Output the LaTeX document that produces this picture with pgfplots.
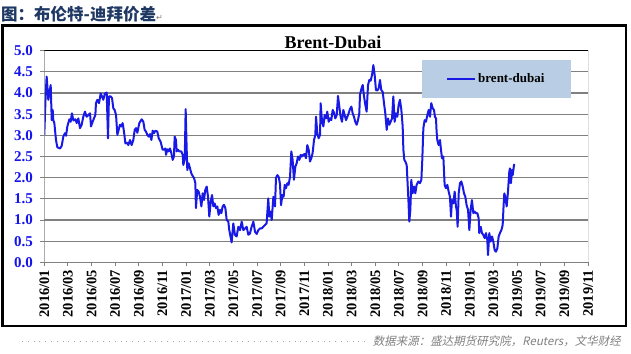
\documentclass[border=0pt]{standalone}
\usepackage{pgfplots}
\pgfplotsset{compat=1.18}
\usepackage{fontspec}
\setmainfont{Liberation Serif}
\newfontfamily\cjk{Noto Sans CJK SC}
\newfontfamily\cjkit{Noto Sans CJK SC}[FakeSlant=0.2]
\newfontfamily\sym{DejaVu Sans}
\definecolor{lineblue}{RGB}{25,25,230}
\definecolor{legfill}{RGB}{185,205,229}
\definecolor{titlenavy}{RGB}{31,56,100}
\definecolor{ylab}{RGB}{20,20,235}
\definecolor{gridgray}{RGB}{128,128,128}
\begin{document}
\begin{tikzpicture}[x=1pt,y=1pt]
\useasboundingbox (0,0) rectangle (631,353);
\draw[line width=2.5pt] (2.5,27) rectangle (626,327.5);
\node[anchor=west, inner sep=0pt, font=\cjk\bfseries\fontsize{16.5}{16.5}\selectfont, text=titlenavy] at (1,339) {图：布伦特-迪拜价差{\sym\mdseries\fontsize{8}{8}\selectfont\color{gray}↵}};
\node[font=\bfseries\fontsize{18}{18}\selectfont] at (333,311) {Brent-Dubai};
\draw[gray!70, line width=0.8pt, dash pattern=on 0.8pt off 5pt] (22,12) -- (366,12);
\node[anchor=east, inner sep=0pt, font=\cjkit\fontsize{11.5}{12}\selectfont, text=gray] at (621,12) {数据来源：盛达期货研究院，Reuters，文华财经};
\begin{axis}[
  at={(44.3pt,90.7pt)}, anchor=south west,
  width=543.7pt, height=211.6pt, scale only axis,
  xmin=0, xmax=46, ymin=0, ymax=5,
  xtick={0,2,...,46},
  xticklabels={2016/01,2016/03,2016/05,2016/07,2016/09,2016/11,2017/01,2017/03,2017/05,2017/07,2017/09,2017/11,2018/01,2018/03,2018/05,2018/07,2018/09,2018/11,2019/01,2019/03,2019/05,2019/07,2019/09,2019/11},
  ytick={0,0.5,1,1.5,2,2.5,3,3.5,4,4.5,5},
  yticklabel={\pgfmathprintnumber[fixed,fixed zerofill,precision=1]{\tick}},
  /pgf/number format/assume math mode=true,
  ymajorgrids, grid style={color=gridgray, line width=1.1pt},
  axis line style={draw=none},
  tick style={color=gridgray, line width=0.9pt}, major tick length=4pt, tick align=outside,
  xtick pos=bottom, ytick pos=left,
  x tick label style={rotate=90, anchor=east, font=\bfseries\fontsize{14.5}{14.5}\selectfont, xshift=0pt},
  y tick label style={font=\bfseries\fontsize{15}{15}\selectfont, text=ylab, xshift=-4pt},
  legend style={at={(0.8314,0.866)}, anchor=center, draw=none, fill=none, font=\bfseries\fontsize{13}{13}\selectfont},
  legend image code/.code={\draw[#1] (0pt,0pt) -- (28pt,0pt);},
]
\addplot[color=lineblue, line width=2pt, line join=round] coordinates {
(0.00,3.01)(0.12,3.99)(0.20,4.39)(0.34,3.84)(0.43,3.99)(0.54,4.19)(0.63,3.36)(0.71,3.60)(0.76,3.36)(0.85,3.29)(0.99,2.89)(1.10,2.72)(1.33,2.69)(1.47,2.75)(1.61,2.97)(1.75,3.05)(1.84,2.99)(1.95,3.21)(2.12,3.38)(2.23,3.32)(2.34,3.52)(2.46,3.35)(2.63,3.38)(2.74,3.29)(2.88,3.40)(3.02,3.17)(3.16,3.25)(3.30,3.44)(3.44,3.56)(3.58,3.44)(3.73,3.48)(3.87,3.52)(3.95,3.21)(4.09,3.32)(4.20,3.40)(4.32,3.48)(4.37,3.76)(4.49,3.84)(4.63,3.76)(4.77,3.99)(4.88,3.92)(4.99,3.84)(5.13,3.99)(5.28,4.01)(5.39,2.93)(5.47,3.92)(5.61,3.92)(5.73,3.88)(5.84,3.64)(5.95,3.60)(6.07,3.48)(6.18,3.01)(6.29,3.13)(6.40,3.25)(6.52,3.21)(6.63,3.29)(6.74,3.09)(6.86,2.81)(6.97,2.83)(7.11,2.77)(7.25,2.89)(7.39,2.77)(7.53,2.89)(7.65,3.13)(7.76,3.17)(7.87,3.06)(8.04,3.29)(8.24,3.38)(8.38,3.32)(8.49,3.13)(8.60,3.09)(8.72,3.01)(8.83,2.97)(8.94,3.03)(9.06,2.89)(9.17,3.11)(9.28,3.05)(9.39,3.11)(9.56,3.09)(9.68,2.93)(9.84,2.85)(10.01,2.66)(10.13,2.66)(10.24,2.69)(10.30,2.54)(10.41,2.67)(10.52,2.62)(10.63,2.69)(10.75,2.58)(10.86,2.42)(10.97,2.50)(11.03,2.97)(11.14,2.89)(11.20,2.62)(11.31,2.66)(11.42,2.62)(11.59,2.62)(11.71,2.54)(11.76,2.30)(11.88,2.42)(11.96,3.62)(12.04,2.73)(12.10,2.18)(12.21,2.34)(12.33,2.22)(12.44,2.10)(12.55,2.04)(12.67,1.99)(12.78,1.87)(12.83,1.28)(12.94,1.71)(13.06,1.67)(13.17,1.55)(13.29,1.32)(13.40,1.63)(13.51,1.47)(13.62,1.71)(13.74,1.79)(13.85,1.55)(13.96,1.08)(14.08,1.43)(14.19,1.59)(14.30,1.32)(14.41,1.39)(14.53,1.28)(14.64,1.32)(14.75,1.12)(14.86,1.24)(14.98,1.16)(15.09,1.32)(15.20,1.36)(15.32,1.28)(15.43,1.00)
(15.57,0.96)(15.65,0.76)(15.85,0.47)(15.99,0.92)(16.13,0.65)(16.27,0.61)(16.42,0.84)(16.56,0.76)(16.70,0.96)(16.84,0.76)(16.98,0.80)(17.12,0.84)(17.26,0.65)(17.40,0.68)(17.54,0.84)(17.69,0.96)(17.83,0.72)(17.97,0.67)(18.11,0.76)(18.25,0.80)(18.39,0.80)(18.53,0.84)(18.67,0.88)(18.81,0.92)(18.95,1.51)(19.04,1.08)(19.15,1.20)(19.24,1.00)(19.38,1.55)(19.52,1.32)(19.60,1.99)(19.72,2.06)(19.83,2.02)(19.94,1.85)(20.03,1.35)(20.14,1.59)(20.25,1.55)(20.34,1.83)(20.45,1.75)(20.56,1.87)(20.67,1.83)(20.79,2.02)(20.90,2.62)(21.01,2.42)(21.12,1.95)(21.24,2.26)(21.35,2.34)(21.46,2.50)(21.58,2.42)(21.69,2.54)(21.80,2.50)(21.91,2.54)(22.03,2.56)(22.14,2.46)(22.25,2.77)(22.37,2.66)(22.48,2.38)(22.59,2.46)(22.70,2.58)(22.82,2.89)(22.93,3.01)(22.99,3.44)(23.10,3.05)(23.21,2.93)(23.33,3.01)(23.38,3.76)(23.49,3.36)(23.61,3.21)(23.72,3.48)(23.83,3.40)(23.94,3.56)(24.06,3.32)(24.17,3.40)(24.28,3.36)(24.40,3.60)(24.51,3.54)(24.62,3.40)(24.74,3.48)(24.85,3.93)(24.96,3.68)(25.07,3.44)(25.19,3.32)(25.30,3.60)(25.41,3.48)(25.53,3.36)(25.64,3.44)(25.75,3.52)(25.86,3.62)(25.98,3.68)(26.09,3.52)(26.20,3.44)(26.31,3.32)(26.43,3.25)(26.54,3.36)(26.65,3.52)(26.71,3.96)(26.82,4.09)(26.94,4.19)(27.05,3.92)(27.16,3.72)(27.27,3.56)(27.39,4.19)(27.50,4.31)(27.61,4.29)(27.73,4.43)(27.84,4.66)(27.95,4.43)(28.06,4.07)(28.18,4.06)(28.29,4.11)(28.40,4.31)(28.51,4.07)(28.63,4.03)(28.74,3.76)(28.85,3.52)(28.97,3.13)(29.08,3.40)(29.19,3.25)(29.30,3.32)(29.42,3.40)(29.53,3.92)(29.64,3.32)(29.75,3.52)(29.87,3.44)(29.98,3.72)(30.09,3.84)(30.21,3.60)(30.32,3.21)(30.38,2.66)(30.46,2.42)(30.55,2.38)(30.66,2.30)(30.71,2.02)(30.80,1.51)(30.88,0.96)(30.97,1.24)(31.05,1.95)
(31.16,1.63)(31.28,1.79)(31.39,1.63)(31.50,1.83)(31.64,1.91)(31.78,1.87)(31.90,1.95)(31.98,2.42)(32.07,3.17)(32.18,3.36)(32.29,3.32)(32.41,3.48)(32.52,3.60)(32.63,3.44)(32.74,3.76)(32.86,3.64)(32.97,3.60)(33.05,3.44)(33.14,3.40)(33.19,3.09)(33.25,2.89)(33.36,2.77)(33.48,2.89)(33.56,2.66)(33.65,2.46)(33.76,2.50)(33.87,1.83)(33.98,1.75)(34.10,1.83)(34.21,1.67)(34.32,1.55)(34.41,1.08)(34.49,1.47)(34.61,1.39)(34.72,1.67)(34.83,1.32)(34.89,1.24)(34.97,0.84)(35.06,1.63)(35.17,1.87)(35.28,1.91)(35.40,1.79)(35.51,1.63)(35.62,1.55)(35.73,1.35)(35.85,1.24)(35.96,0.76)(36.07,1.24)(36.18,1.47)(36.30,1.16)(36.41,1.20)(36.52,1.16)(36.64,1.16)(36.75,1.04)(36.80,0.69)(36.92,0.84)(37.03,0.69)(37.14,0.65)(37.26,0.57)(37.37,0.69)(37.48,0.53)(37.54,0.17)(37.65,0.69)(37.76,0.49)(37.88,0.61)(37.99,0.49)(38.10,0.29)(38.21,0.25)(38.33,0.33)(38.44,0.61)(38.55,0.69)(38.67,0.76)(38.78,0.88)(38.86,1.35)(38.92,1.63)(39.00,1.55)(39.12,1.32)(39.23,1.67)(39.34,2.14)(39.40,2.22)(39.48,1.87)(39.57,2.18)(39.63,2.06)(39.74,2.30)(39.79,2.32)
};
\addlegendentry{brent-dubai}
\fill[legfill] (rel axis cs:0.6941,0.7765) rectangle (rel axis cs:0.9688,0.956);
\draw[gridgray, line width=1pt] (rel axis cs:0,1) -- (rel axis cs:0,0) -- (rel axis cs:1,0);
\draw[black, line width=1pt] (rel axis cs:0,1) -- (rel axis cs:1,1) -- (rel axis cs:1,0);
\end{axis}
\end{tikzpicture}
\end{document}
